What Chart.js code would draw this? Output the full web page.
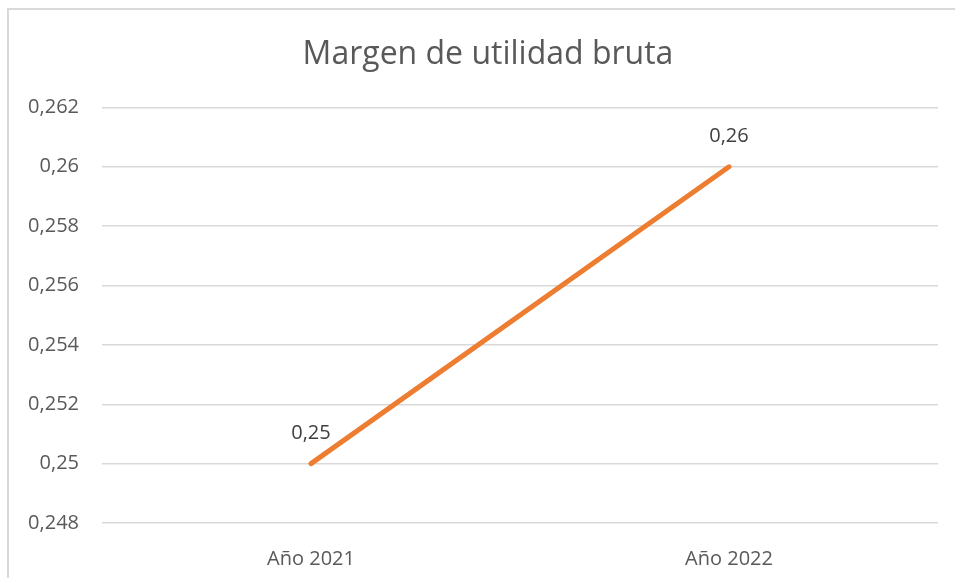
<!DOCTYPE html>
<html>
<head>
<meta charset="utf-8">
<script src="https://cdn.jsdelivr.net/npm/chart.js@4/dist/chart.umd.min.js"></script>
<style>
  body { margin: 0; background: #fff; }
  #wrap { position: relative; width: 955px; height: 578px; overflow: hidden; }
  #frame {
    position: absolute; left: 7px; top: 8px; width: 980px; height: 600px;
    border: 2px solid #d9d9d9; pointer-events: none;
  }
</style>
</head>
<body>
<div id="wrap">
  <canvas id="myChart" width="955" height="578"></canvas>
  <div id="frame"></div>
</div>
<script>
// Chart data
const chartTitle = 'Margen de utilidad bruta'
const categories = ['Año 2021', 'Año 2022']
const margins = [0.25, 0.26]
const yTicks = [0.248, 0.25, 0.252, 0.254, 0.256, 0.258, 0.26, 0.262]

const FONT = "'Open Sans', 'Noto Sans', sans-serif"

// formats 0.252 -> "0,252"
function toComma(v) {
    return Number(v.toFixed(3)).toString().replace('.', ',')
}

// draws the value above each point, like excel's data labels
const pointLabels = {
    id: 'pointLabels',
    afterLayout(chart) {
        // the excel frame is wider than the picture, so its title sits a bit right of centre
        if (chart.titleBlock) chart.titleBlock.left = 38
    },
    afterDatasetsDraw(chart) {
        const ctx = chart.ctx
        const meta = chart.getDatasetMeta(0)
        ctx.save()
        ctx.font = '20px ' + FONT
        ctx.fillStyle = '#404040'
        ctx.textAlign = 'center'
        ctx.textBaseline = 'middle'
        meta.data.forEach(function (pt, i) {
            ctx.fillText(toComma(margins[i]), pt.x, pt.y - 30)
        })
        ctx.restore()
    }
}

let ctx = document.getElementById('myChart')
let myChart = new Chart(ctx, {
    type: 'line',
    data: {
        labels: categories,
        datasets: [{
            data: margins,
            borderColor: '#ed7d31',
            borderWidth: 5,
            borderCapStyle: 'round',
            pointRadius: 0,
            tension: 0
        }]
    },
    options: {
        responsive: false,
        animation: false,
        layout: { padding: { left: 0, right: 17, top: 0, bottom: 0 } },
        plugins: {
            legend: { display: false },
            tooltip: { enabled: false },
            title: {
                display: true,
                text: chartTitle,
                color: '#595959',
                font: { family: FONT, size: 32, weight: 'normal' },
                padding: { top: 36, bottom: 33 }
            }
        },
        scales: {
            x: {
                offset: true,
                grid: { display: false },
                border: { display: false },
                ticks: {
                    color: '#595959',
                    font: { family: FONT, size: 20 },
                    padding: 16
                },
                afterFit: function (scale) { scale.height = 55 }
            },
            y: {
                min: yTicks[0],
                max: yTicks[yTicks.length - 1],
                afterBuildTicks: function (scale) {
                    scale.ticks = yTicks.map(function (v) { return { value: v } })
                },
                grid: { color: '#d9d9d9', lineWidth: 1.5, drawTicks: false },
                border: { display: false },
                ticks: {
                    color: '#595959',
                    font: { family: FONT, size: 20 },
                    padding: 23,
                    callback: function (v) { return toComma(v) }
                },
                afterFit: function (scale) { scale.width = 102 }
            }
        }
    },
    plugins: [pointLabels]
});
</script>
</body>
</html>
